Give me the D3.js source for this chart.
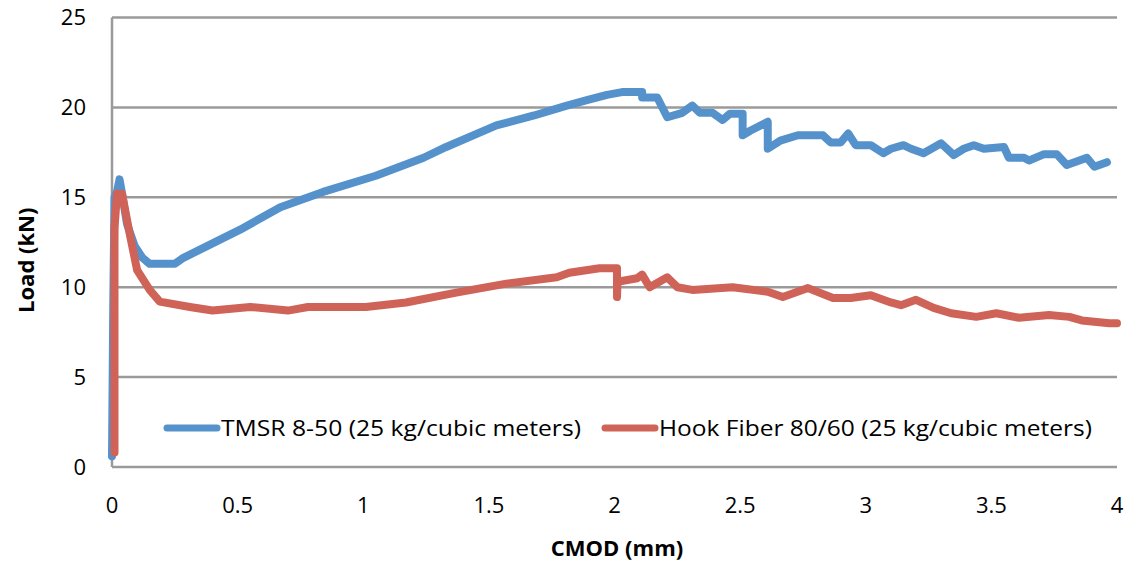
<!DOCTYPE html>
<html>
<head>
<meta charset="utf-8">
<script src="https://cdn.jsdelivr.net/npm/d3@7"></script>
<style>
  body { margin: 0; background: #fff; }
  text { font-family: "Open Sans", Lato, sans-serif; fill: #000; }
</style>
</head>
<body>
<svg id="chart" width="1133" height="563"></svg>
<script>
// values: [CMOD mm, load kN]
const tmsrData = [
  [0, 0.6], [0.005, 9], [0.01, 15], [0.02, 15.3], [0.03, 16.0], [0.04, 15.2],
  [0.06, 13.5], [0.09, 12.3], [0.12, 11.65], [0.15, 11.3], [0.25, 11.3], [0.28, 11.6],
  [0.38, 12.3], [0.51, 13.2], [0.67, 14.45], [0.84, 15.3], [1.05, 16.2], [1.24, 17.2],
  [1.33, 17.8], [1.53, 19.0], [1.68, 19.55], [1.80, 20.06], [1.89, 20.4], [1.97, 20.7],
  [2.03, 20.85], [2.11, 20.85], [2.11, 20.55], [2.17, 20.55], [2.21, 19.45], [2.27, 19.7],
  [2.31, 20.1], [2.34, 19.7], [2.39, 19.7], [2.43, 19.3], [2.46, 19.65], [2.51, 19.65],
  [2.51, 18.45], [2.54, 18.7], [2.61, 19.2], [2.61, 17.7], [2.66, 18.15], [2.73, 18.45],
  [2.83, 18.45], [2.86, 18.05], [2.90, 18.05], [2.93, 18.55], [2.96, 17.9], [3.02, 17.9],
  [3.07, 17.45], [3.10, 17.7], [3.15, 17.9], [3.18, 17.7], [3.23, 17.45], [3.30, 18.0],
  [3.35, 17.35], [3.39, 17.7], [3.43, 17.9], [3.47, 17.7], [3.55, 17.8], [3.57, 17.2],
  [3.63, 17.2], [3.65, 17.05], [3.71, 17.4], [3.76, 17.4], [3.80, 16.8], [3.85, 17.05],
  [3.88, 17.2], [3.91, 16.7], [3.96, 16.95]
]

const hookData = [
  [0.01, 0.8], [0.01, 13.3], [0.02, 15.2], [0.04, 15.2], [0.07, 13.0], [0.10, 10.95],
  [0.15, 9.85], [0.19, 9.2], [0.31, 8.9], [0.40, 8.7], [0.55, 8.9], [0.70, 8.7],
  [0.78, 8.9], [1.01, 8.9], [1.17, 9.15], [1.37, 9.7], [1.57, 10.2], [1.77, 10.55],
  [1.82, 10.8], [1.94, 11.05], [2.01, 11.05], [2.01, 9.45], [2.012, 10.3], [2.09, 10.5],
  [2.11, 10.7], [2.14, 10.0], [2.21, 10.55], [2.25, 10.0], [2.31, 9.85], [2.47, 10.0],
  [2.61, 9.75], [2.67, 9.45], [2.77, 9.95], [2.87, 9.4], [2.94, 9.4], [3.02, 9.55],
  [3.10, 9.15], [3.14, 9.0], [3.20, 9.3], [3.27, 8.85], [3.34, 8.55], [3.44, 8.35],
  [3.52, 8.55], [3.61, 8.3], [3.73, 8.45], [3.81, 8.35], [3.86, 8.15], [3.97, 8.0],
  [4.0, 8.0]
]

const seriesNames = ['TMSR 8-50 (25 kg/cubic meters)', 'Hook Fiber 80/60 (25 kg/cubic meters)']
const seriesColors = ['#5592CB', '#CF6358']
const xTicks = [0, 0.5, 1, 1.5, 2, 2.5, 3, 3.5, 4]
const yTicks = [0, 5, 10, 15, 20, 25]

const svg = d3.select('#chart')
const margin = { left: 112, right: 16, top: 17.5, bottom: 96 }
const width = 1133 - margin.left - margin.right
const height = 563 - margin.top - margin.bottom

const g = svg.append('g').attr('transform', `translate(${margin.left},${margin.top})`)

const x = d3.scaleLinear().domain([0, 4]).range([0, width])
const y = d3.scaleLinear().domain([0, 25]).range([height, 0])

// horizontal gridlines
g.selectAll('.grid')
  .data(yTicks.filter(d => d > 0))
  .enter().append('line')
  .attr('x1', 0)
  .attr('x2', width)
  .attr('y1', d => y(d))
  .attr('y2', d => y(d))
  .attr('stroke', '#9a9a9a')
  .attr('stroke-width', 2.5)

// axis lines
g.append('line')
  .attr('x1', 0).attr('x2', 0)
  .attr('y1', 0).attr('y2', height)
  .attr('stroke', '#9a9a9a').attr('stroke-width', 2.5)
g.append('line')
  .attr('x1', 0).attr('x2', width)
  .attr('y1', height).attr('y2', height)
  .attr('stroke', '#9a9a9a').attr('stroke-width', 2.5)

// tick labels
g.selectAll('.ylab')
  .data(yTicks)
  .enter().append('text')
  .attr('x', -26)
  .attr('y', d => y(d))
  .attr('dy', '0.36em')
  .attr('text-anchor', 'end')
  .attr('font-size', 22)
  .text(d => d)

g.selectAll('.xlab')
  .data(xTicks)
  .enter().append('text')
  .attr('x', d => x(d))
  .attr('y', height + 46)
  .attr('text-anchor', 'middle')
  .attr('font-size', 22)
  .text(d => d)

// axis titles
svg.append('text')
  .attr('x', 617)
  .attr('y', 556)
  .attr('text-anchor', 'middle')
  .attr('font-size', 22)
  .attr('font-weight', 'bold')
  .text('CMOD (mm)')

svg.append('text')
  .attr('transform', `translate(34,${margin.top + height / 2 + 18}) rotate(-90)`)
  .attr('text-anchor', 'middle')
  .attr('font-size', 22)
  .attr('font-weight', 'bold')
  .text('Load (kN)')

// data lines
const line = d3.line()
  .x(d => x(d[0]))
  .y(d => y(d[1]))

;[tmsrData, hookData].forEach((data, i) => {
  g.append('path')
    .datum(data)
    .attr('d', line)
    .attr('fill', 'none')
    .attr('stroke', seriesColors[i])
    .attr('stroke-width', 8)
    .attr('stroke-linejoin', 'round')
    .attr('stroke-linecap', 'round')
})

// legend
const legendX = [167, 605]
const legendW = [360, 433]
const legendY = 428
seriesNames.forEach((name, i) => {
  svg.append('line')
    .attr('x1', legendX[i]).attr('x2', legendX[i] + 50)
    .attr('y1', legendY).attr('y2', legendY)
    .attr('stroke', seriesColors[i])
    .attr('stroke-width', 7)
    .attr('stroke-linecap', 'round')
  svg.append('text')
    .attr('x', legendX[i] + 54)
    .attr('y', legendY)
    .attr('dy', '0.36em')
    .attr('font-size', 22)
    .attr('textLength', legendW[i])
    .attr('lengthAdjust', 'spacingAndGlyphs')
    .text(name)
})
</script>
</body>
</html>
